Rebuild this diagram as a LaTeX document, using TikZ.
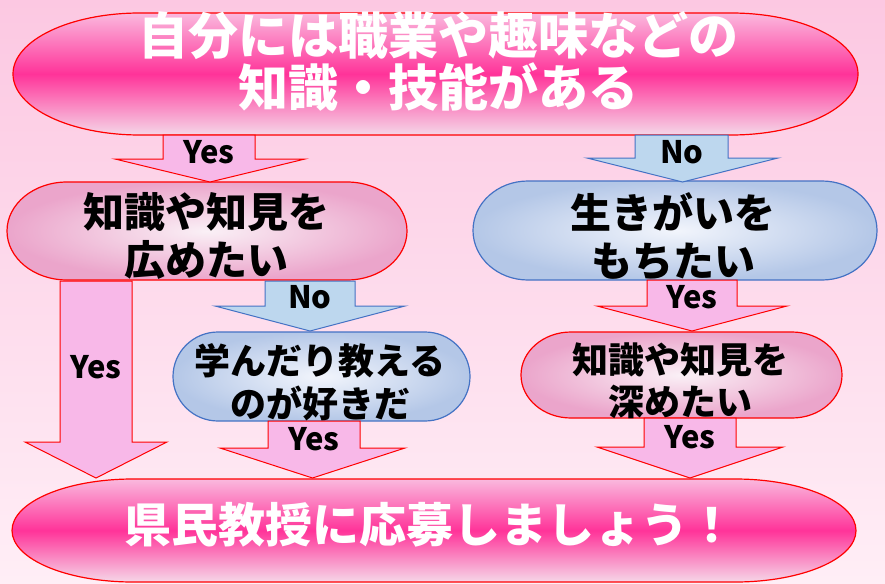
\documentclass[tikz,border=0pt]{standalone}
\usepackage{fontspec}
\setmainfont{Noto Sans CJK JP}
\definecolor{bgtop}{RGB}{252,200,226}
\definecolor{bgbot}{RGB}{255,238,246}
\definecolor{arrpink}{RGB}{248,184,232}
\definecolor{arrblue}{RGB}{189,215,238}
\definecolor{bluebd}{RGB}{68,114,196}
\definecolor{hot}{RGB}{255,51,153}
\definecolor{hotlt}{RGB}{250,185,222}
\definecolor{hotlt2}{RGB}{245,215,232}
\definecolor{pinkout}{RGB}{235,165,203}
\definecolor{pinkin}{RGB}{250,240,246}
\definecolor{blueout}{RGB}{180,199,231}
\definecolor{bluein}{RGB}{242,245,252}
\newcommand\capsule[6]{% x0,y0,x1,y1,rx,style
  \pgfmathsetmacro\Lx{#1}\pgfmathsetmacro\Ty{#2}\pgfmathsetmacro\Rx{#3}\pgfmathsetmacro\By{#4}%
  \pgfmathsetmacro\Cy{(\Ty+\By)/2}\pgfmathsetmacro\ry{(\By-\Ty)/2}%
  \pgfmathsetmacro\rx{#5}%
  \pgfmathsetmacro\kx{0.5523*\rx}\pgfmathsetmacro\ky{0.5523*\ry}%
  \path[#6] (\Lx+\rx,\Ty) -- (\Rx-\rx,\Ty)
    .. controls (\Rx-\rx+\kx,\Ty) and (\Rx,\Cy-\ky) .. (\Rx,\Cy)
    .. controls (\Rx,\Cy+\ky) and (\Rx-\rx+\kx,\By) .. (\Rx-\rx,\By)
    -- (\Lx+\rx,\By)
    .. controls (\Lx+\rx-\kx,\By) and (\Lx,\Cy+\ky) .. (\Lx,\Cy)
    .. controls (\Lx,\Cy-\ky) and (\Lx+\rx-\kx,\Ty) .. (\Lx+\rx,\Ty) -- cycle;}
\newcommand\blockarrow[8]{% style, shaftL, shaftR, ytop, ybase, headL, headR, ytip
  \path[#1] (#2,#4) -- (#3,#4) -- (#3,#5) -- (#7,#5) -- ({(#6+#7)/2},#8)
    -- (#6,#5) -- (#2,#5) -- cycle;}
\tikzset{
  bigcap/.style={draw=red, line width=1.2pt, top color=hotlt, bottom color=hotlt2, middle color=hot},
  pinkcap/.style={draw=red, line width=1.2pt, inner color=pinkin, outer color=pinkout},
  bluecap/.style={draw=bluebd, line width=1.2pt, inner color=bluein, outer color=blueout},
  pinkarr/.style={draw=red, line width=1pt, fill=arrpink},
  bluearr/.style={draw=bluebd, line width=1pt, fill=arrblue},
  whitetxt/.style={text=white, align=center, inner sep=0pt},
  blacktxt/.style={text=black, align=center, inner sep=0pt},
  yeslbl/.style={text=black, inner sep=0pt, font=\bfseries\fontsize{31}{31}\selectfont},
}
\begin{document}
\begin{tikzpicture}[x=1pt,y=-1pt]
\useasboundingbox (0,0) rectangle (885,583);
\shade[top color=bgtop, bottom color=bgbot] (0,0) rectangle (885,583);
% capsules
\capsule{13}{13}{858}{135}{127}{bigcap}
\capsule{7}{182}{407}{280}{60}{pinkcap}
\capsule{473}{181}{877}{280}{55}{bluecap}
\capsule{173}{332}{470}{421}{45}{bluecap}
\capsule{521}{332}{842}{418}{50}{pinkcap}
\capsule{12}{479}{856}{582}{121}{bigcap}
% texts
\node[whitetxt, font=\bfseries\fontsize{50}{52}\selectfont] (top) at (438,62) {自分には職業や趣味などの\\知識・技能がある};
\node[blacktxt, font=\bfseries\fontsize{41}{48}\selectfont] (hiromeru) at (206,236) {知識や知見を\\広めたい};
\node[blacktxt, font=\bfseries\fontsize{41}{48}\selectfont] (ikigai) at (673,236) {生きがいを\\もちたい};
\node[blacktxt, font=\bfseries\fontsize{36}{43}\selectfont] (manabu) at (320,382) {学んだり教える\\のが好きだ};
\node[blacktxt, font=\bfseries\fontsize{36}{42}\selectfont] (fukameru) at (680,381) {知識や知見を\\深めたい};
\node[whitetxt, font=\bfseries\fontsize{47}{50}\selectfont] (oubo) at (430,525) {県民教授に応募しましょう！};
% block arrows
\blockarrow{pinkarr}{163}{255}{135}{159}{115}{305}{182}
\blockarrow{bluearr}{635}{728}{135}{158}{587}{778}{182}
\blockarrow{pinkarr}{60}{132}{281}{442}{25}{167}{478}
\blockarrow{bluearr}{265}{355}{281}{306}{215}{405}{331}
\blockarrow{pinkarr}{268}{360}{421}{448}{220}{405}{478}
\blockarrow{pinkarr}{647}{737}{280}{306}{597}{787}{331}
\blockarrow{pinkarr}{644}{736}{418}{447}{597}{783}{478}
% labels
\node[yeslbl] (y1) at (209,152) {Yes};
\node[yeslbl] (n1) at (682,152) {No};
\node[yeslbl] (y2) at (96,367) {Yes};
\node[yeslbl] (n2) at (310,297) {No};
\node[yeslbl] (y3) at (314,439) {Yes};
\node[yeslbl] (y4) at (692,297) {Yes};
\node[yeslbl] (y5) at (690,437) {Yes};
\end{tikzpicture}
\end{document}
